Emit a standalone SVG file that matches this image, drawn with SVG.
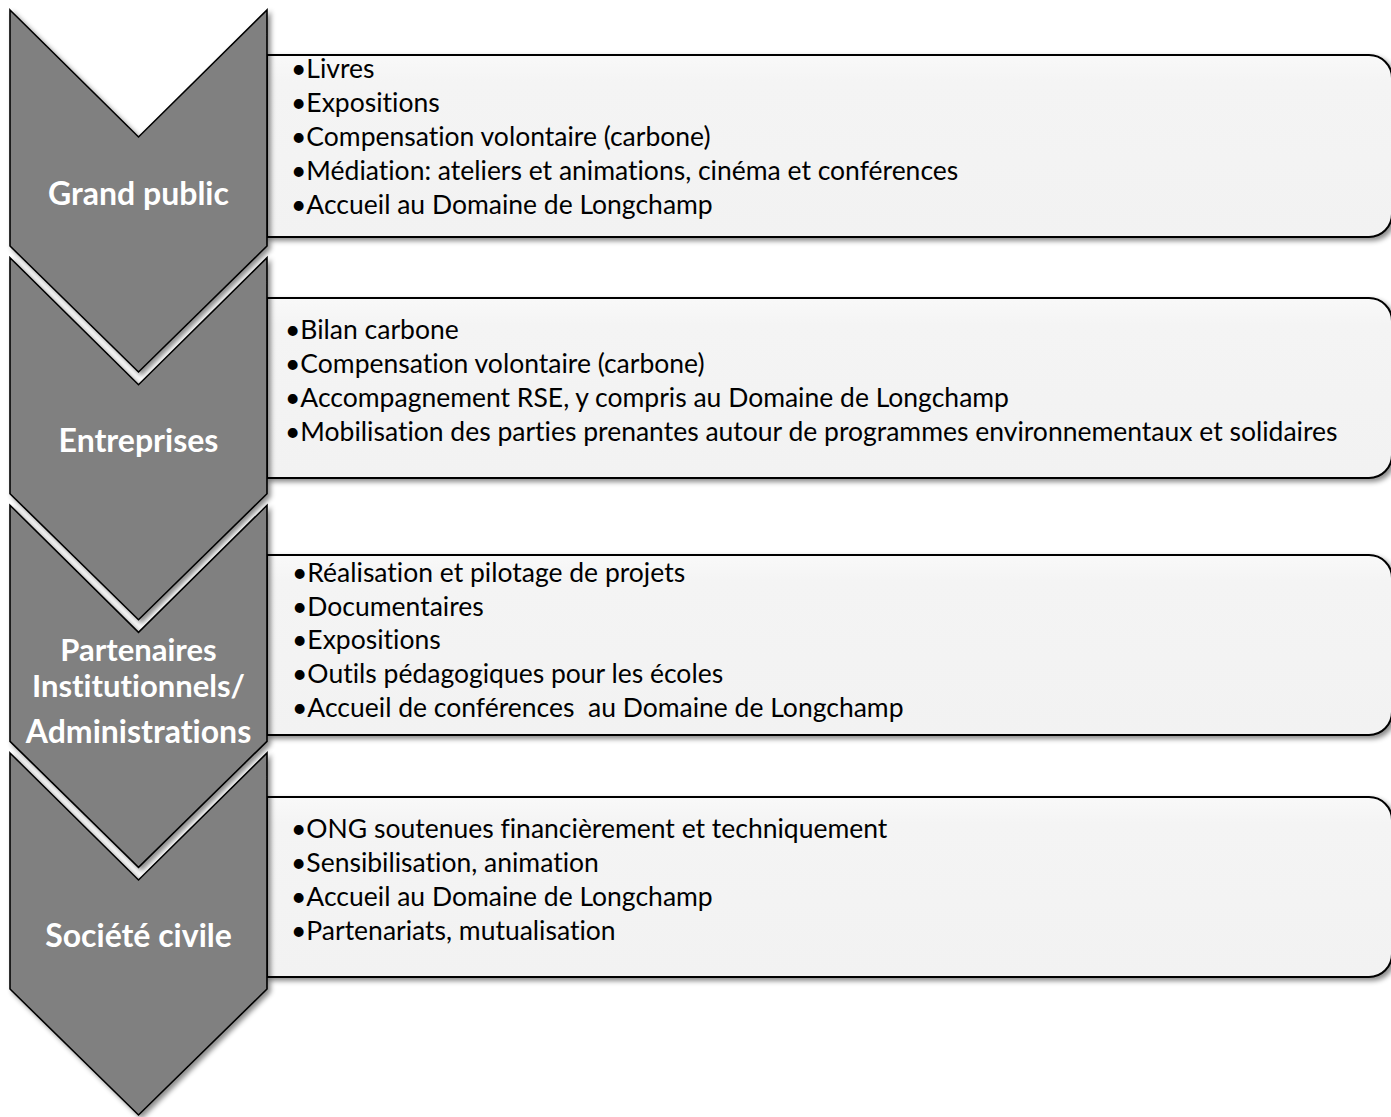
<svg xmlns="http://www.w3.org/2000/svg" width="1391" height="1117" viewBox="0 0 1391 1117">
  <defs>
    <filter id="shadow" x="-10%" y="-10%" width="130%" height="130%">
      <feDropShadow dx="3" dy="3" stdDeviation="2.5" flood-color="#000" flood-opacity="0.45"/>
    </filter>
    <linearGradient id="boxFill" x1="0" y1="0" x2="0" y2="1">
      <stop offset="0" stop-color="#f9f9f9"/>
      <stop offset="0.15" stop-color="#f4f4f4"/>
      <stop offset="1" stop-color="#f2f2f2"/>
    </linearGradient>
    <path id="chev" d="M10,0 L138.5,127 L267,0 L267,236 L138.5,362 L10,236 Z"/>
  </defs>
  <style>
    .box { fill: url(#boxFill); stroke: #000; stroke-width: 2; filter: url(#shadow); }
    .chevron { fill: #808080; stroke: #000; stroke-width: 1.6; stroke-linejoin: miter; filter: url(#shadow); }
    .label { font-family: Lato, "Liberation Sans", sans-serif; font-weight: bold; font-size: 32px; fill: #fff; text-anchor: middle; font-variant-ligatures: none; }
    .label-sm { font-size: 31px; }
    .item { font-family: Lato, "Liberation Sans", sans-serif; font-size: 26.5px; fill: #000; font-variant-ligatures: none; }
  </style>

  <!-- Row 1 -->
  <g id="box-grand-public">
    <path class="box" d="M267,55 L1369,55 A23,23 0 0 1 1392,78 L1392,214 A23,23 0 0 1 1369,237 L267,237 Z"/>
    <text class="item" x="291" y="78">•Livres</text>
    <text class="item" x="291" y="112">•Expositions</text>
    <text class="item" x="291" y="146">•Compensation volontaire (carbone)</text>
    <text class="item" x="291" y="180">•Médiation: ateliers et animations, cinéma et conférences</text>
    <text class="item" x="291" y="214">•Accueil au Domaine de Longchamp</text>
  </g>
  <g id="chevron-grand-public">
    <use href="#chev" class="chevron" transform="translate(0,10)"/>
    <text class="label" x="138.5" y="205">Grand public</text>
  </g>

  <!-- Row 2 -->
  <g id="box-entreprises">
    <path class="box" d="M267,298 L1369,298 A23,23 0 0 1 1392,321 L1392,455 A23,23 0 0 1 1369,478 L267,478 Z"/>
    <text class="item" x="285" y="339">•Bilan carbone</text>
    <text class="item" x="285" y="373">•Compensation volontaire (carbone)</text>
    <text class="item" x="285" y="407">•Accompagnement RSE, y compris au Domaine de Longchamp</text>
    <text class="item" x="285" y="441">•Mobilisation des parties prenantes autour de programmes environnementaux et solidaires</text>
  </g>
  <g id="chevron-entreprises">
    <use href="#chev" class="chevron" transform="translate(0,257.7)"/>
    <text class="label" x="138.5" y="452">Entreprises</text>
  </g>

  <!-- Row 3 -->
  <g id="box-partenaires">
    <path class="box" d="M267,555 L1369,555 A23,23 0 0 1 1392,578 L1392,712 A23,23 0 0 1 1369,735 L267,735 Z"/>
    <text class="item" x="292" y="582">•Réalisation et pilotage de projets</text>
    <text class="item" x="292" y="616">•Documentaires</text>
    <text class="item" x="292" y="649">•Expositions</text>
    <text class="item" x="292" y="683">•Outils pédagogiques pour les écoles</text>
    <text class="item" x="292" y="717" xml:space="preserve">•Accueil de conférences  au Domaine de Longchamp</text>
  </g>
  <g id="chevron-partenaires">
    <use href="#chev" class="chevron" transform="translate(0,505.3)"/>
    <text class="label label-sm" x="138.5" y="661">Partenaires</text>
    <text class="label label-sm" x="138.5" y="697">Institutionnels/</text>
    <text class="label" x="138.5" y="743">Administrations</text>
  </g>

  <!-- Row 4 -->
  <g id="box-societe-civile">
    <path class="box" d="M267,797 L1369,797 A23,23 0 0 1 1392,820 L1392,954 A23,23 0 0 1 1369,977 L267,977 Z"/>
    <text class="item" x="291" y="838">•ONG soutenues financièrement et techniquement</text>
    <text class="item" x="291" y="872">•Sensibilisation, animation</text>
    <text class="item" x="291" y="906">•Accueil au Domaine de Longchamp</text>
    <text class="item" x="291" y="940">•Partenariats, mutualisation</text>
  </g>
  <g id="chevron-societe-civile">
    <use href="#chev" class="chevron" transform="translate(0,753)"/>
    <text class="label" x="138.5" y="947">Société civile</text>
  </g>
</svg>
